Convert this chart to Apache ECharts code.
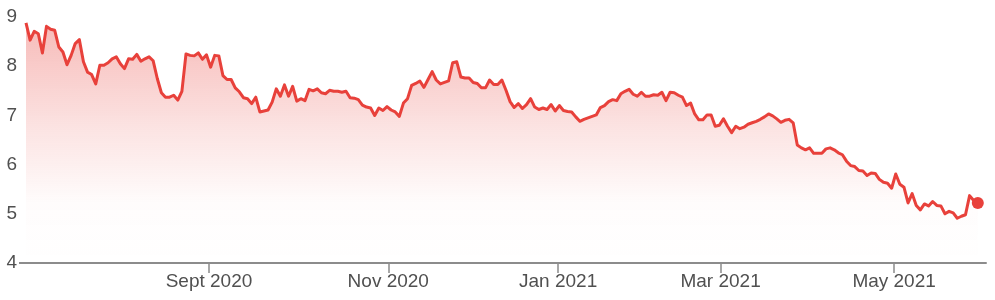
<!DOCTYPE html>
<html><head><meta charset="utf-8">
<script src="https://cdn.jsdelivr.net/npm/echarts@6/dist/echarts.min.js"></script>
<style>html,body{margin:0;padding:0;background:#fff}#c{width:995px;height:300px}</style>
</head><body><div id="c"></div>
<script>
// daily closing values (one per trading day)
const values = [
  8.88, 8.53, 8.71, 8.66, 8.27, 8.81, 8.75, 8.73, 8.39, 8.29,
  8.03, 8.22, 8.46, 8.54, 8.09, 7.88, 7.83, 7.64, 8.02, 8.02,
  8.07, 8.15, 8.19, 8.05, 7.95, 8.15, 8.14, 8.24, 8.10, 8.15,
  8.19, 8.11, 7.75, 7.46, 7.37, 7.37, 7.41, 7.31, 7.49, 8.25,
  8.22, 8.21, 8.27, 8.14, 8.23, 7.98, 8.22, 8.21, 7.81, 7.73,
  7.73, 7.56, 7.48, 7.36, 7.34, 7.24, 7.37, 7.07,
  7.09, 7.11, 7.27, 7.54, 7.39, 7.62, 7.39, 7.59, 7.29, 7.34,
  7.30, 7.53, 7.50, 7.54, 7.46, 7.44, 7.51, 7.49, 7.49, 7.47,
  7.49, 7.36, 7.35, 7.32, 7.21, 7.17, 7.15, 7.00, 7.15, 7.10,
  7.18, 7.11, 7.07, 6.98, 7.25, 7.34, 7.61, 7.65, 7.70, 7.57,
  7.73, 7.89, 7.72, 7.64, 7.67, 7.70, 8.07, 8.09, 7.78, 7.76,
  7.76, 7.67, 7.65, 7.56, 7.56, 7.72, 7.63, 7.63, 7.72,
  7.51, 7.28, 7.16, 7.24, 7.14, 7.22, 7.34, 7.17, 7.12, 7.15,
  7.12, 7.22, 7.09, 7.20, 7.10, 7.08, 7.07, 6.97, 6.88, 6.92,
  6.95, 6.98, 7.01, 7.16, 7.20, 7.28, 7.32, 7.30, 7.44, 7.49,
  7.53, 7.43, 7.39, 7.47, 7.39, 7.39, 7.42, 7.41, 7.47, 7.30,
  7.47, 7.46, 7.41, 7.37, 7.20, 7.25, 7.03, 6.91, 6.91, 7.01,
  7.01, 6.78, 6.80, 6.93, 6.78, 6.65, 6.78, 6.73,
  6.76, 6.82, 6.85, 6.88, 6.92, 6.97, 7.03, 6.99, 6.93, 6.86,
  6.90, 6.92, 6.85, 6.40, 6.34, 6.30, 6.34, 6.23, 6.23, 6.23,
  6.32, 6.34, 6.30, 6.24, 6.20, 6.07, 5.98, 5.96, 5.88, 5.87,
  5.78, 5.83, 5.82, 5.70, 5.64, 5.62, 5.52, 5.81, 5.60, 5.54,
  5.22, 5.41, 5.17, 5.08, 5.20, 5.16, 5.25, 5.17, 5.16, 5.00,
  5.05, 5.02, 4.91, 4.95, 4.98, 5.37, 5.27, 5.22
];
// month-start positions on the trading-day index scale, and their labels
const tickPositions = [44.6, 88.3, 129.7, 169.3, 211.6];
const tickLabels = ['Sept 2020', 'Nov 2020', 'Jan 2021', 'Mar 2021', 'May 2021'];
const yMin = 4, yMax = 9, yStep = 1;

const RED = '#e8413b';
const lineData = values.map((v, i) => [i, v]);
const last = lineData[lineData.length - 1];

const chart = echarts.init(document.getElementById('c'), null, {renderer: 'canvas'});
chart.setOption({
  animation: false,
  grid: {left: 26, right: 9, top: 17, bottom: 37, containLabel: false},
  xAxis: {
    type: 'value',
    min: 0,
    max: values.length + 1,
    splitLine: {show: false},
    axisLine: {show: true, lineStyle: {color: '#8c8c8c', width: 2}},
    axisTick: {show: true, customValues: tickPositions, length: 10, lineStyle: {color: '#8c8c8c', width: 1.5}},
    axisLabel: {
      customValues: tickPositions,
      formatter: v => tickLabels[tickPositions.indexOf(v)] || '',
      color: '#505050', fontSize: 19, fontFamily: 'Liberation Sans, Arial, sans-serif', margin: 9
    }
  },
  yAxis: {
    type: 'value',
    min: yMin, max: yMax, interval: yStep,
    axisLine: {show: false},
    axisTick: {show: true, customValues: [yMin], length: 7, lineStyle: {color: '#8c8c8c', width: 2}},
    splitLine: {show: true, lineStyle: {color: '#eeeeee', width: 1.5}},
    axisLabel: {color: '#505050', fontSize: 19, fontFamily: 'Liberation Sans, Arial, sans-serif', margin: 9}
  },
  series: [
    {
      type: 'line',
      data: lineData,
      showSymbol: false,
      lineStyle: {color: RED, width: 3, join: 'round'},
      areaStyle: {
        origin: 'start',
        opacity: 1,
        color: new echarts.graphic.LinearGradient(0, 0, 0, 1, [
          {offset: 0, color: 'rgba(232,65,59,0.36)'},
          {offset: 0.45, color: 'rgba(232,65,59,0.14)'},
          {offset: 0.75, color: 'rgba(232,65,59,0.015)'},
          {offset: 1, color: 'rgba(232,65,59,0)'}
        ])
      },
      z: 3
    },
    {
      type: 'scatter',
      data: [last],
      symbol: 'circle',
      symbolSize: 12,
      itemStyle: {color: RED, opacity: 1},
      z: 4
    }
  ]
});
</script>
</body></html>
